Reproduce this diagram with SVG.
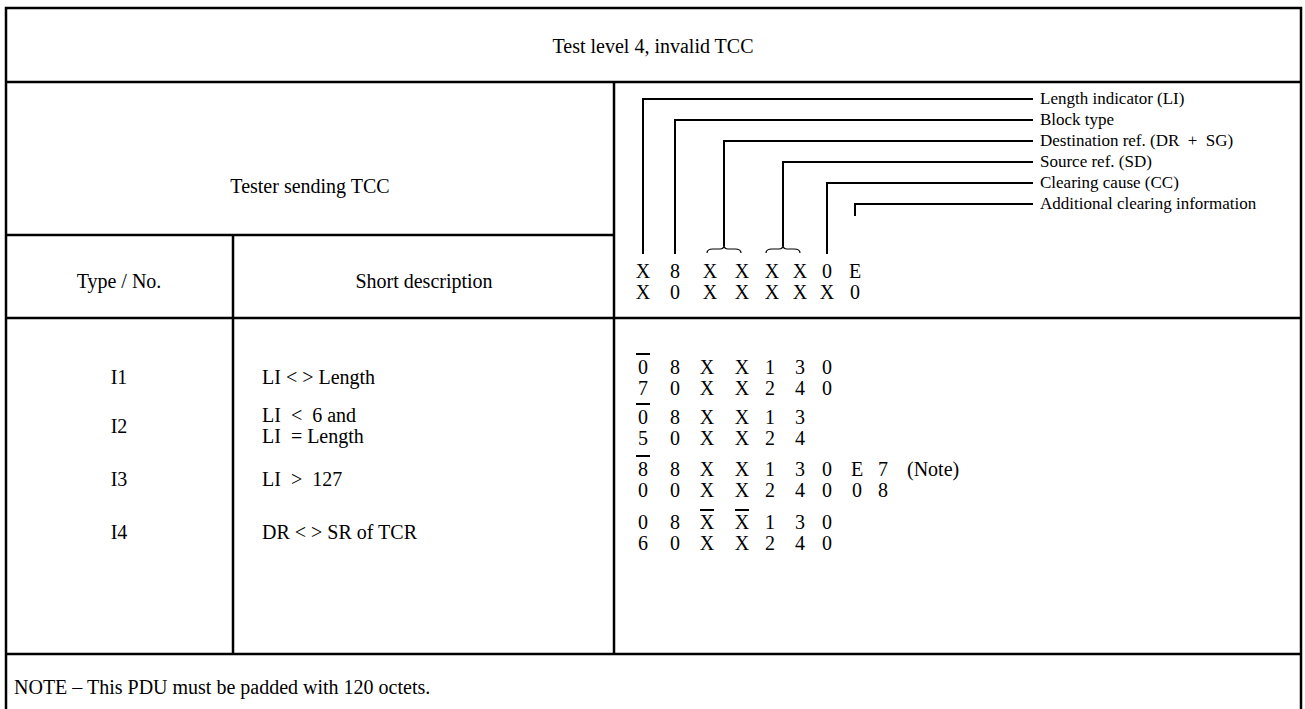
<svg xmlns="http://www.w3.org/2000/svg" width="1305" height="709" viewBox="0 0 1305 709">
<style>
text{font-family:"Liberation Serif","Times New Roman",serif;fill:#000;white-space:pre}
.t{font-size:20px}
.c{text-anchor:middle}
.l{font-size:17px}
.h{font-size:20px;text-anchor:middle}
.frame{fill:none;stroke:#000;stroke-width:2.5}
.grid{stroke:#000;stroke-width:2.5;fill:none}
.lead{stroke:#000;stroke-width:2;fill:none}
.brace{stroke:#000;stroke-width:1.2;fill:none}
.bar{stroke:#000;stroke-width:2}
</style>
<rect width="1305" height="709" fill="#fff"/>
<g id="table">
<rect class="frame" x="6" y="8" width="1295" height="720"/>
<line class="grid" x1="6" y1="82" x2="1301" y2="82"/>
<line class="grid" x1="614" y1="82" x2="614" y2="654"/>
<line class="grid" x1="6" y1="235" x2="614" y2="235"/>
<line class="grid" x1="233" y1="235" x2="233" y2="654"/>
<line class="grid" x1="6" y1="318" x2="1301" y2="318"/>
<line class="grid" x1="6" y1="654" x2="1301" y2="654"/>
</g>
<g id="title"><text class="t c" x="653" y="53">Test level 4, invalid TCC</text></g>
<g id="header-left">
<text class="t c" x="310" y="193">Tester sending TCC</text>
<text class="t c" x="119" y="288">Type / No.</text>
<text class="t c" x="424" y="288">Short description</text>
</g>
<g id="connectors">
<path class="lead" d="M643,254 V99 H1033"/>
<path class="lead" d="M675,254 V120 H1033"/>
<path class="lead" d="M724,246 V141 H1033"/>
<path class="lead" d="M783,246 V162 H1033"/>
<path class="lead" d="M827,254 V183 H1033"/>
<path class="lead" d="M855,216 V204 H1033"/>
<path class="brace" d="M707,253 q0,-4 6,-4 h7 q4,0 4,-4 q0,4 4,4 h7 q6,0 6,4"/>
<path class="brace" d="M766,253 q0,-4 6,-4 h7 q4,0 4,-4 q0,4 4,4 h7 q6,0 6,4"/>
</g>
<g id="labels">
<text class="l" x="1040" y="104">Length indicator (LI)</text>
<text class="l" x="1040" y="125">Block type</text>
<text class="l" x="1040" y="146">Destination ref. (DR  +  SG)</text>
<text class="l" x="1040" y="167">Source ref. (SD)</text>
<text class="l" x="1040" y="188">Clearing cause (CC)</text>
<text class="l" x="1040" y="209">Additional clearing information</text>
</g>
<g id="header-bytes">
<text class="h" y="278"><tspan x="643">X</tspan><tspan x="675">8</tspan><tspan x="710">X</tspan><tspan x="742">X</tspan><tspan x="772">X</tspan><tspan x="800">X</tspan><tspan x="827">0</tspan><tspan x="855">E</tspan></text>
<text class="h" y="299"><tspan x="643">X</tspan><tspan x="675">0</tspan><tspan x="710">X</tspan><tspan x="742">X</tspan><tspan x="772">X</tspan><tspan x="800">X</tspan><tspan x="827">X</tspan><tspan x="855">0</tspan></text>
</g>
<g id="row-I1">
<text class="t c" x="119" y="384">I1</text>
<text class="t" x="262" y="384">LI &lt; &gt; Length</text>
<line class="bar" x1="636" y1="354" x2="650" y2="354"/>
<text class="h" y="374"><tspan x="643">0</tspan><tspan x="675">8</tspan><tspan x="707">X</tspan><tspan x="742">X</tspan><tspan x="770">1</tspan><tspan x="800">3</tspan><tspan x="827">0</tspan></text>
<text class="h" y="395"><tspan x="643">7</tspan><tspan x="675">0</tspan><tspan x="707">X</tspan><tspan x="742">X</tspan><tspan x="770">2</tspan><tspan x="800">4</tspan><tspan x="827">0</tspan></text>
</g>
<g id="row-I2">
<text class="t c" x="119" y="433">I2</text>
<text class="t" x="262" y="422">LI  &lt;  6 and</text>
<text class="t" x="262" y="443">LI  = Length</text>
<line class="bar" x1="636" y1="404" x2="650" y2="404"/>
<text class="h" y="424"><tspan x="643">0</tspan><tspan x="675">8</tspan><tspan x="707">X</tspan><tspan x="742">X</tspan><tspan x="770">1</tspan><tspan x="800">3</tspan></text>
<text class="h" y="445"><tspan x="643">5</tspan><tspan x="675">0</tspan><tspan x="707">X</tspan><tspan x="742">X</tspan><tspan x="770">2</tspan><tspan x="800">4</tspan></text>
</g>
<g id="row-I3">
<text class="t c" x="119" y="486">I3</text>
<text class="t" x="262" y="486">LI  &gt;  127</text>
<line class="bar" x1="636" y1="456" x2="650" y2="456"/>
<text class="h" y="476"><tspan x="643">8</tspan><tspan x="675">8</tspan><tspan x="707">X</tspan><tspan x="742">X</tspan><tspan x="770">1</tspan><tspan x="800">3</tspan><tspan x="827">0</tspan><tspan x="857">E</tspan><tspan x="883">7</tspan></text>
<text class="t" x="907" y="476">(Note)</text>
<text class="h" y="497"><tspan x="643">0</tspan><tspan x="675">0</tspan><tspan x="707">X</tspan><tspan x="742">X</tspan><tspan x="770">2</tspan><tspan x="800">4</tspan><tspan x="827">0</tspan><tspan x="857">0</tspan><tspan x="883">8</tspan></text>
</g>
<g id="row-I4">
<text class="t c" x="119" y="539">I4</text>
<text class="t" x="262" y="539">DR &lt; &gt; SR of TCR</text>
<line class="bar" x1="700" y1="510" x2="714" y2="510"/>
<line class="bar" x1="735" y1="510" x2="749" y2="510"/>
<text class="h" y="529"><tspan x="643">0</tspan><tspan x="675">8</tspan><tspan x="707">X</tspan><tspan x="742">X</tspan><tspan x="770">1</tspan><tspan x="800">3</tspan><tspan x="827">0</tspan></text>
<text class="h" y="550"><tspan x="643">6</tspan><tspan x="675">0</tspan><tspan x="707">X</tspan><tspan x="742">X</tspan><tspan x="770">2</tspan><tspan x="800">4</tspan><tspan x="827">0</tspan></text>
</g>
<g id="note"><text class="t" x="14" y="694">NOTE – This PDU must be padded with 120 octets.</text></g>
</svg>
